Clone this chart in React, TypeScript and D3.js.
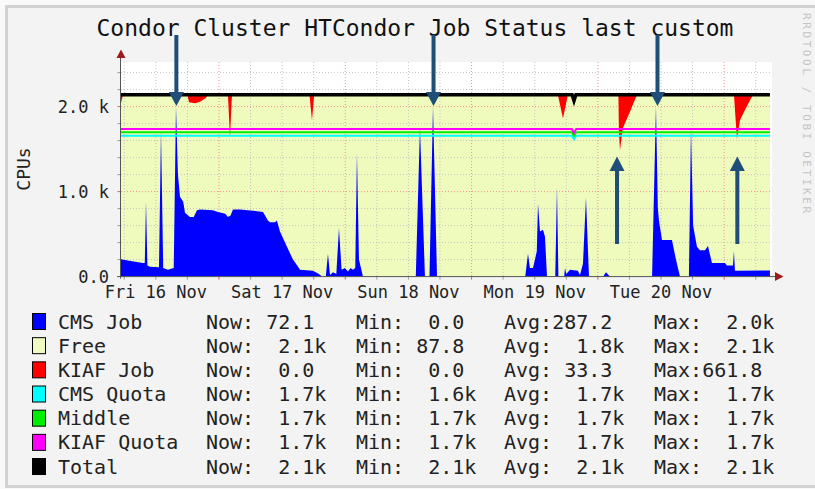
import React from "react";
import * as d3 from "d3";

// hours since Fri 16 Nov 2018 00:00, values in thousands of CPUs
const cmsJob: [number, number][] = [
  [5.38, 0.205], [7.5, 0.18], [9.56, 0.16], [9.9, 0.16], [10.13, 0.88], [10.4, 0.13], [10.89, 0.115],
  [12.6, 0.11], [12.98, 1.72], [13.4, 0.1], [14.31, 0.08], [15.4, 0.1], [15.83, 2.0], [16.2, 1.2],
  [16.59, 0.94], [17.2, 0.88], [17.54, 0.75], [18.49, 0.7], [19.2, 0.7], [19.82, 0.78], [20.39, 0.79],
  [22.86, 0.78], [23.81, 0.76], [25.2, 0.74], [25.71, 0.7], [26.2, 0.72], [26.66, 0.79], [27.99, 0.79],
  [31.22, 0.77], [32.36, 0.76], [33.3, 0.66], [33.69, 0.64], [34.64, 0.64], [35.0, 0.66], [35.59, 0.53],
  [36.92, 0.35], [38.06, 0.2], [39.0, 0.12], [39.39, 0.08], [41.86, 0.07], [43.0, 0.03], [43.57, 0],
  [44.3, 0], [44.71, 0.27], [45.1, 0.02], [45.66, 0.05], [46.3, 0.03], [46.8, 0.57], [47.3, 0.08],
  [47.94, 0.1], [48.5, 0.06], [49.0, 0.1], [49.46, 0.08], [49.9, 0.1], [50.22, 1.45], [50.6, 0.2],
  [51.36, 0], [61.4, 0], [62.19, 1.75], [63.14, 0], [64.0, 0], [64.67, 2.0], [65.43, 0], [82.2, 0],
  [82.72, 0.27], [83.09, 0.1], [83.67, 0.1], [84.05, 0.2], [84.4, 0.3], [84.62, 0.86], [85.0, 0.53],
  [85.57, 0.55], [85.95, 0.47], [86.33, 0], [87.9, 0], [88.23, 1.05], [88.5, 0], [89.6, 0], [89.75, 0.1],
  [90.0, 0.03], [90.7, 0.08], [92.2, 0.07], [92.6, 0.02], [93.17, 0.15], [93.74, 0.93], [94.31, 0],
  [97.0, 0], [97.54, 0.05], [98.3, 0], [106.3, 0], [107.04, 2.0], [107.4, 0.8], [107.61, 0.66],
  [108.18, 0.43], [110.08, 0.43], [110.84, 0.2], [111.6, 0], [113.3, 0], [113.69, 1.75], [114.1, 0.6],
  [114.83, 0.35], [115.4, 0.31], [116.35, 0.31], [116.92, 0.36], [117.68, 0.16], [120.15, 0.16],
  [120.53, 0.13], [121.67, 0.13], [121.86, 0.3], [122.05, 0.07], [128.7, 0.072],
];

const kiafJob: [number, number][] = [
  [5.38, 0.1], [5.76, 0], [18.0, 0], [18.3, 0.09], [19.5, 0.1], [20.5, 0.08], [21.5, 0.04], [21.9, 0],
  [25.7, 0], [26.09, 0.5], [26.47, 0], [41.2, 0], [41.67, 0.3], [42.1, 0], [88.4, 0], [89.37, 0.28],
  [90.3, 0], [99.9, 0], [100.0, 0.43], [100.2, 0.65], [100.77, 0.39], [102.1, 0.2], [103.43, 0],
  [121.86, 0], [122.24, 0.35], [122.43, 0.52], [123.0, 0.3], [123.95, 0.18], [125.47, 0], [128.7, 0],
];

const cmsQuota: [number, number][] = [[5.38, 1.658], [91.05, 1.658], [91.46, 1.615], [91.87, 1.658], [128.7, 1.658]];
const middle: [number, number][] = [[5.38, 1.698], [91.05, 1.698], [91.46, 1.655], [91.87, 1.698], [128.7, 1.698]];
const kiafQuota: [number, number][] = [[5.38, 1.736], [91.05, 1.736], [91.46, 1.688], [91.87, 1.736], [128.7, 1.736]];
const total: [number, number][] = [[5.38, 2.14], [91.1, 2.14], [91.46, 2.07], [91.82, 2.14], [128.7, 2.14]];

const dayLabels = ["Fri 16 Nov", "Sat 17 Nov", "Sun 18 Nov", "Mon 19 Nov", "Tue 20 Nov"];
const dayLabelHours = [12, 36, 60, 84, 108];
const yTickValues = [0, 1, 2];
const yTickLabels = ["0.0", "1.0 k", "2.0 k"];

const downArrowHours = [15.9, 64.77, 107.33];
const upArrowHours = [99.64, 122.5];

const legendNames = ["CMS Job", "Free", "KIAF Job", "CMS Quota", "Middle", "KIAF Quota", "Total"];
const legendColors = ["#0000FF", "#F0FBC3", "#FF0000", "#00FFFF", "#00EE00", "#FF00FF", "#000000"];
const legendNow = ["Now: 72.1", "Now:  2.1k", "Now:  0.0", "Now:  1.7k", "Now:  1.7k", "Now:  1.7k", "Now:  2.1k"];
const legendMin = ["Min:  0.0", "Min: 87.8", "Min:  0.0", "Min:  1.6k", "Min:  1.7k", "Min:  1.7k", "Min:  2.1k"];
const legendAvg = ["Avg:287.2", "Avg:  1.8k", "Avg: 33.3", "Avg:  1.7k", "Avg:  1.7k", "Avg:  1.7k", "Avg:  2.1k"];
const legendMax = ["Max:  2.0k", "Max:  2.1k", "Max:661.8", "Max:  1.7k", "Max:  1.7k", "Max:  1.7k", "Max:  2.1k"];

const MONO = "'DejaVu Sans Mono', monospace";
const pre = (s: string) => s.replace(/ /g, "\u00A0");

export default function App() {
  const x = d3.scaleLinear().domain([5.38, 128.9]).range([121, 771]);
  const y = d3.scaleLinear().domain([0, 2.525]).range([276.6, 62]);
  const totalAt = (h: number) => {
    const hs = total.map((d) => d[0]);
    const vs = total.map((d) => d[1]);
    return d3.scaleLinear().domain(hs).range(vs).clamp(true)(h);
  };

  const areaFromZero = d3
    .area<[number, number]>()
    .x((d) => x(d[0]))
    .y0(y(0))
    .y1((d) => y(d[1]));
  const redArea = d3
    .area<[number, number]>()
    .x((d) => x(d[0]))
    .y0((d) => y(totalAt(d[0]) - d[1]))
    .y1((d) => y(totalAt(d[0])));
  const line = d3
    .line<[number, number]>()
    .x((d) => x(d[0]))
    .y((d) => y(d[1]));

  const hGrid = d3.range(0.2, 2.5, 0.2);
  const vGrid = d3.range(6, 128.9, 6);
  const isMajorY = (v: number) => Math.abs(v - Math.round(v)) < 1e-6;
  const plotLeft = 121;
  const plotRight = 772;
  const plotTop = 62;
  const base = y(0);

  const rowTop = (i: number) => 313 + i * 24.17;

  return (
    <svg width={815} height={489} style={{ position: "absolute", left: 0, top: 0 }}>
      <rect x={0} y={0} width={815} height={489} fill="#f9f9f9" />
      <rect x={6.5} y={6.5} width={830} height={480} fill="#f3f3f3" stroke="#d2d2d2" strokeWidth={3} />

      {/* canvas */}
      <rect x={plotLeft} y={plotTop} width={plotRight - plotLeft} height={base - plotTop} fill="#ffffff" />
      <path d={areaFromZero(total) || ""} fill="#EFFABD" />

      {/* grid */}
      {hGrid.map((v) => (
        <line
          key={"h" + v}
          x1={plotLeft}
          x2={plotRight}
          y1={y(v)}
          y2={y(v)}
          stroke={isMajorY(v) ? "#f29090" : "#c4c4c4"}
          strokeWidth={1}
          strokeDasharray="1,2"
        />
      ))}
      {vGrid.map((h) => (
        <line
          key={"v" + h}
          x1={x(h)}
          x2={x(h)}
          y1={plotTop}
          y2={base}
          stroke={h % 24 === 0 ? "#f29090" : "#c4c4c4"}
          strokeWidth={1}
          strokeDasharray="1,2"
        />
      ))}

      {/* areas */}
      <path d={areaFromZero(cmsJob) || ""} fill="#0000FF" />
      <path d={redArea(kiafJob) || ""} fill="#FF0000" />

      {/* lines */}
      <path d={line(cmsQuota) || ""} fill="none" stroke="#00FFFF" strokeWidth={2} />
      <path d={line(middle) || ""} fill="none" stroke="#00EE00" strokeWidth={2} />
      <path d={line(kiafQuota) || ""} fill="none" stroke="#FF00FF" strokeWidth={2} />
      <path d={line(total) || ""} fill="none" stroke="#000000" strokeWidth={3.5} />

      {/* ticks */}
      {hGrid.map((v) => (
        <line key={"yt" + v} x1={117.5} x2={120.5} y1={y(v)} y2={y(v)} stroke={isMajorY(v) ? "#e06060" : "#999"} strokeWidth={1} />
      ))}
      {vGrid.map((h) => (
        <line key={"xt" + h} x1={x(h)} x2={x(h)} y1={base} y2={base + 3} stroke={h % 24 === 0 ? "#e06060" : "#999"} strokeWidth={1} />
      ))}

      {/* axes */}
      <line x1={120.5} x2={120.5} y1={base + 2} y2={57} stroke="#555" strokeWidth={1} />
      <line x1={117} x2={776} y1={base} y2={base} stroke="#555" strokeWidth={1} />
      <polygon points={`116.5,58 125.5,58 121,49.5`} fill="#9b1c1c" />
      <polygon points={`775,${base - 4.5} 775,${base + 4.5} 783.5,${base}`} fill="#9b1c1c" />

      {/* y tick labels */}
      {yTickValues.map((v, i) => (
        <text key={"yl" + v} x={109} y={y(v) + 6.2} textAnchor="end" fontFamily={MONO} fontSize={17} fill="#222">
          {pre(yTickLabels[i])}
        </text>
      ))}
      {/* x labels */}
      {dayLabelHours.map((h, i) => (
        <text key={"xl" + h} x={x(h)} y={298} textAnchor="middle" fontFamily={MONO} fontSize={17} fill="#222">
          {pre(dayLabels[i])}
        </text>
      ))}

      {/* y title */}
      <text transform="translate(30,169) rotate(-90)" textAnchor="middle" fontFamily={MONO} fontSize={18} fill="#222">
        CPUs
      </text>

      {/* title */}
      <text x={415} y={36} textAnchor="middle" fontFamily={MONO} fontSize={23} fill="#111">
        {pre("Condor Cluster HTCondor Job Status last custom")}
      </text>

      {/* watermark */}
      <text transform="translate(803,13) rotate(90)" fontFamily={MONO} fontSize={11} fill="#c4c4c4" textLength={200} lengthAdjust="spacing">
        {pre("RRDTOOL / TOBI OETIKER")}
      </text>

      {/* legend */}
      {legendNames.map((name, i) => {
        const t = rowTop(i);
        const by = t + 15.5;
        return (
          <g key={"lg" + i} fontFamily={MONO} fontSize={20} fill="#222">
            <rect x={32.5} y={t + 0.5} width={13} height={16} fill={legendColors[i]} stroke="#000" strokeWidth={1} />
            <text x={58}>{""}</text>
            <text x={58} y={by}>{pre(name)}</text>
            <text x={206} y={by}>{pre(legendNow[i])}</text>
            <text x={356} y={by}>{pre(legendMin[i])}</text>
            <text x={504} y={by}>{pre(legendAvg[i])}</text>
            <text x={654} y={by}>{pre(legendMax[i])}</text>
          </g>
        );
      })}

      {/* annotation arrows */}
      {downArrowHours.map((h) => {
        const cx = x(h);
        return (
          <g key={"da" + h} fill="#1F4E79">
            <rect x={cx - 2} y={35} width={4} height={58} />
            <polygon points={`${cx - 7.5},92 ${cx + 7.5},92 ${cx},106`} />
          </g>
        );
      })}
      {upArrowHours.map((h) => {
        const cx = x(h);
        return (
          <g key={"ua" + h} fill="#1F4E79">
            <rect x={cx - 2} y={170} width={4} height={74} />
            <polygon points={`${cx - 7.5},171 ${cx + 7.5},171 ${cx},156.5`} />
          </g>
        );
      })}
    </svg>
  );
}
